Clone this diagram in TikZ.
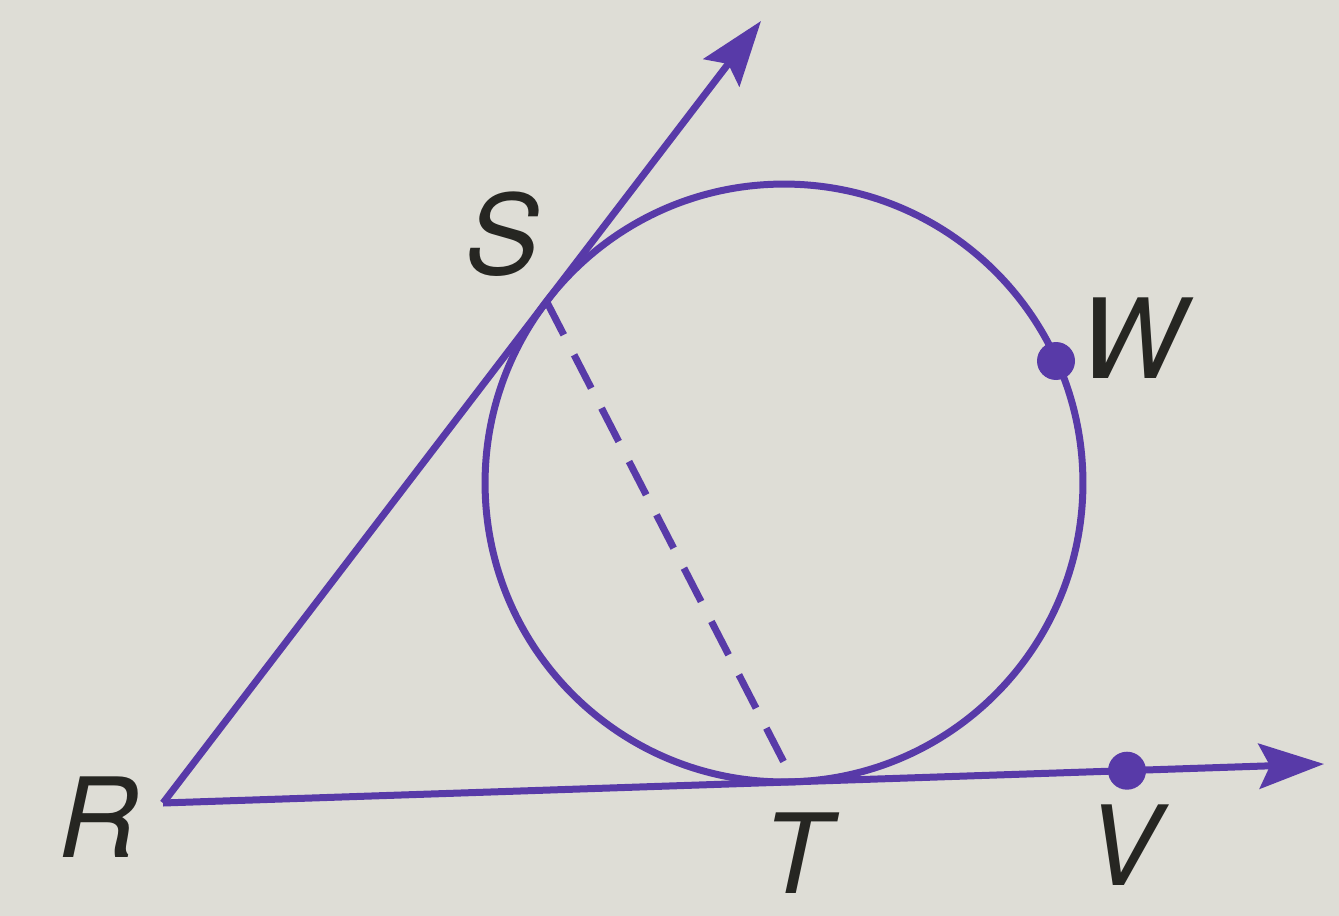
\documentclass[tikz,border=0pt]{standalone}
\usepackage{fontspec}
\setmainfont{TeX Gyre Heros}
\usetikzlibrary{arrows.meta}
\definecolor{ink}{RGB}{88,58,168}
\definecolor{paper}{RGB}{222,221,214}
\definecolor{lab}{RGB}{38,38,34}
\begin{document}
\begin{tikzpicture}[x=0.02cm,y=-0.02cm,
  geo/.style={draw=ink,line width=0.14cm},
  ray/.style={geo,-{Stealth[length=1.3cm,width=0.9cm,inset=0.22cm]}},
  dashline/.style={geo,dash pattern=on 0.75cm off 0.45cm},
  dotpt/.style={fill=ink},
  lbl/.style={text=lab,font=\fontsize{63}{70}\selectfont\itshape,inner sep=0pt}]
\fill[paper] (0,0) rectangle (1339,916);
\useasboundingbox (0,0) rectangle (1339,916);
\coordinate (R) at (163,803);
\coordinate (C) at (784,483);
\coordinate (S) at (546.6,301.5);
\coordinate (T) at (794,781.8);
\coordinate (tipS) at (761,21);
\coordinate (tipT) at (1324,764);
\coordinate (W) at (1056,361);
\coordinate (V) at (1127,770.7);
\draw[geo] (C) circle[radius=5.98cm];
\draw[dashline] (S) -- (T);
\draw[ray] (R) -- (tipS);
\draw[ray] (R) -- (tipT);
\fill[dotpt] (W) circle[radius=0.38cm];
\fill[dotpt] (V) circle[radius=0.38cm];
\node[lbl] (lS) at (502,234) {S};
\node[lbl] (lW) at (1132,338) {W};
\node[lbl] (lR) at (98,817) {R};
\node[lbl] (lT) at (796,853) {T};
\node[lbl] (lV) at (1123,845) {V};
\end{tikzpicture}
\end{document}
